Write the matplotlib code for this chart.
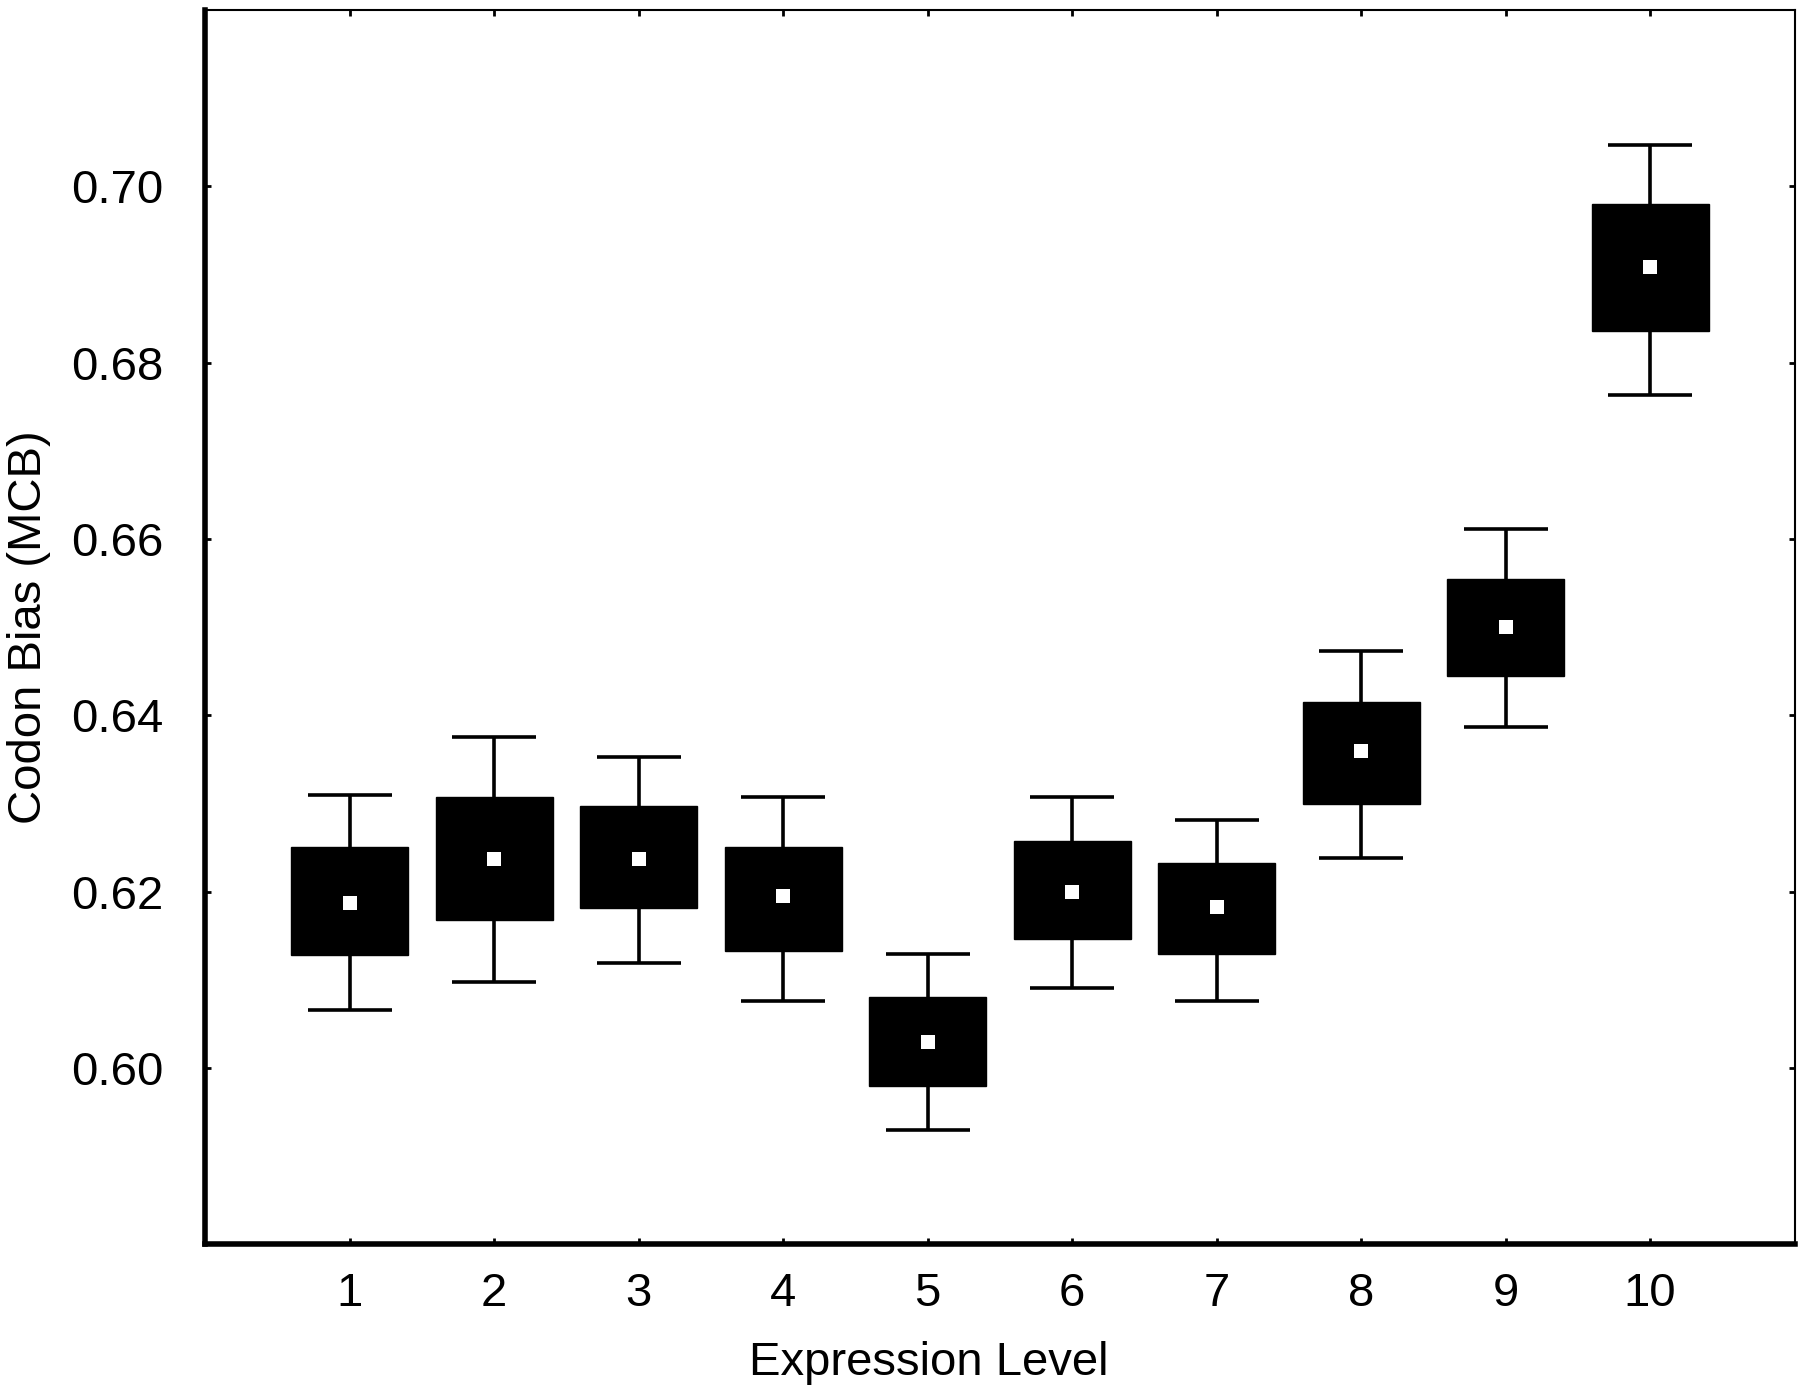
import matplotlib.pyplot as plt
from matplotlib.patches import Rectangle

plt.rcParams['font.family'] = ['Liberation Sans', 'DejaVu Sans']

levels = [1, 2, 3, 4, 5, 6, 7, 8, 9, 10]
means = [0.6187, 0.6237, 0.6237, 0.6195, 0.6030, 0.6200, 0.6182, 0.6359, 0.6500, 0.6908]
box_hi = [0.6251, 0.6307, 0.6297, 0.6251, 0.6081, 0.6257, 0.6233, 0.6415, 0.6555, 0.6980]
box_lo = [0.6128, 0.6168, 0.6181, 0.6133, 0.5980, 0.6146, 0.6129, 0.6299, 0.6445, 0.6836]
wh_hi = [0.6310, 0.6375, 0.6353, 0.6307, 0.6129, 0.6307, 0.6281, 0.6473, 0.6611, 0.7047]
wh_lo = [0.6066, 0.6098, 0.6119, 0.6076, 0.5930, 0.6091, 0.6076, 0.6238, 0.6387, 0.6763]

fig = plt.figure(figsize=(18, 13.95), dpi=100)
ax = fig.add_axes([0.114, 0.108, 0.883, 0.885])

box_w = 0.81
cap_w = 0.58

for x, m, bh, bl, wh, wl in zip(levels, means, box_hi, box_lo, wh_hi, wh_lo):
    ax.vlines(x, wl, wh, color="black", lw=2.6, zorder=1)
    ax.hlines([wl, wh], x - cap_w / 2, x + cap_w / 2, color="black", lw=2.6, zorder=1)
    ax.add_patch(Rectangle((x - box_w / 2, bl), box_w, bh - bl,
                           facecolor="black", edgecolor="black", zorder=2))
    ax.plot(x, m, marker="s", color="white", markersize=10, markeredgewidth=0, zorder=3)

ax.set_xlim(0, 11)
ax.set_ylim(0.58, 0.72)
ax.set_xticks(levels)
ax.set_yticks([0.60, 0.62, 0.64, 0.66, 0.68, 0.70])
ax.set_yticklabels(["0.60", "0.62", "0.64", "0.66", "0.68", "0.70"])

ax.tick_params(direction="in", length=4, width=2, labelsize=34,
               top=True, right=True)
ax.tick_params(axis="y", pad=30)
ax.tick_params(axis="x", pad=20)
ax.spines["left"].set_linewidth(4)
ax.spines["bottom"].set_linewidth(4)
ax.spines["top"].set_linewidth(1.5)
ax.spines["right"].set_linewidth(1.5)

ax.set_xlabel("Expression Level", fontsize=34)
ax.set_ylabel("Codon Bias (MCB)", fontsize=34)
ax.xaxis.set_label_coords(0.455, -0.078)
ax.yaxis.set_label_coords(-0.097, 0.5)

fig.savefig("out.png", dpi=100)
